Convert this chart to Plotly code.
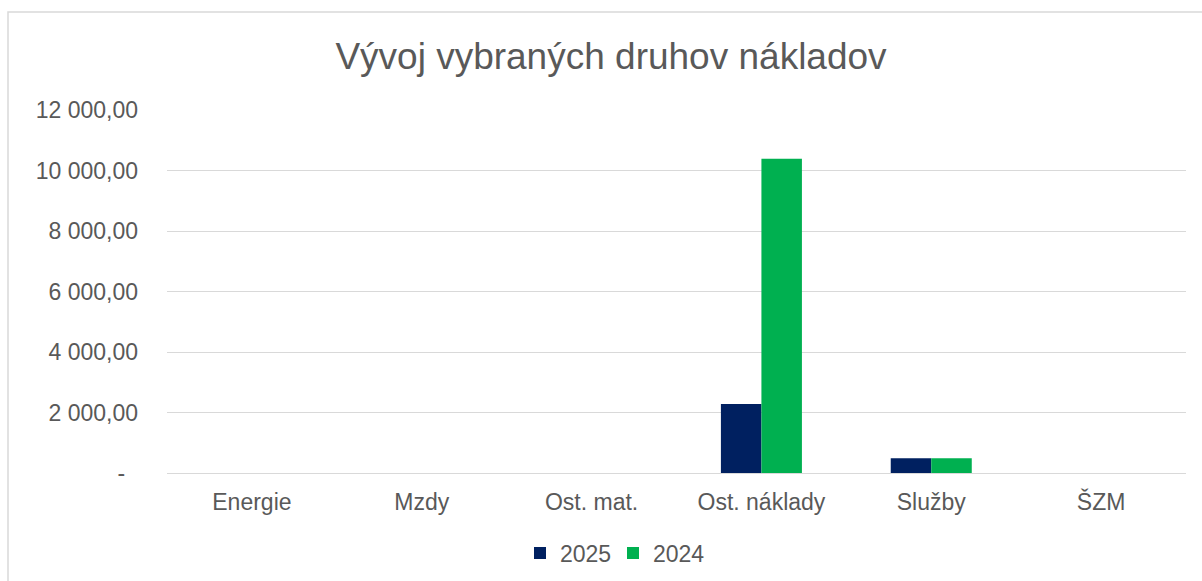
import plotly.graph_objects as go

categories = ["Energie", "Mzdy", "Ost. mat.", "Ost. náklady", "Služby", "ŠZM"]
values_2025 = [0, 0, 0, 2280, 490, 0]
values_2024 = [0, 0, 0, 10390, 490, 0]
tick_vals = [0, 2000, 4000, 6000, 8000, 10000, 12000]
tick_text = ["-\u00a0\u00a0", "2 000,00", "4 000,00", "6 000,00", "8 000,00", "10 000,00", "12 000,00"]

TXT = "#595959"
FONT = "Liberation Sans, Arial, sans-serif"

fig = go.Figure()
fig.add_trace(go.Bar(name="2025", x=categories, y=values_2025, marker_color="#002060",
                     marker_line_width=0))
fig.add_trace(go.Bar(name="2024", x=categories, y=values_2024, marker_color="#00B050",
                     marker_line_width=0))

L, R, T, B = 167, 16, 110, 108
W, H = 1202, 581
pw, ph = W - L - R, H - T - B

def px_x(p):
    return (p - L) / pw

def px_y(p):
    return (H - B - p) / ph

fig.update_layout(
    width=W, height=H,
    margin=dict(l=L, r=R, t=T, b=B, autoexpand=False),
    paper_bgcolor="white", plot_bgcolor="white",
    font=dict(family=FONT, color=TXT, size=23),
    title=dict(text="Vývoj vybraných druhov nákladov", x=611 / W, xanchor="center",
               y=1 - 56 / H, yanchor="middle", font=dict(size=37, color=TXT, family=FONT)),
    barmode="group", bargap=0.523, bargroupgap=0,
    showlegend=True,
    legend=dict(orientation="h", x=px_x(613), xanchor="center", y=px_y(553), yanchor="middle",
                font=dict(size=23, color=TXT), itemwidth=30, traceorder="normal",
                entrywidth=48, entrywidthmode="pixels"),
    xaxis=dict(showgrid=False, showline=False, ticks="", tickfont=dict(size=23, color=TXT),
               ticklabelstandoff=13, fixedrange=True, automargin=False),
    yaxis=dict(range=[0, 12000], tickvals=tick_vals, ticktext=tick_text, showgrid=True,
               gridcolor="#D9D9D9", gridwidth=1, zeroline=True, zerolinecolor="#D9D9D9",
               zerolinewidth=1, showline=False, ticks="", ticklabelstandoff=28,
               tickfont=dict(size=23, color=TXT), automargin=False),
    shapes=[dict(type="rect", xref="paper", yref="paper",
                 x0=px_x(8), x1=px_x(1214), y0=px_y(595), y1=px_y(12),
                 line=dict(color="#D9D9D9", width=1.5), fillcolor="rgba(0,0,0,0)", layer="below")],
)

fig.write_html("out.html")
